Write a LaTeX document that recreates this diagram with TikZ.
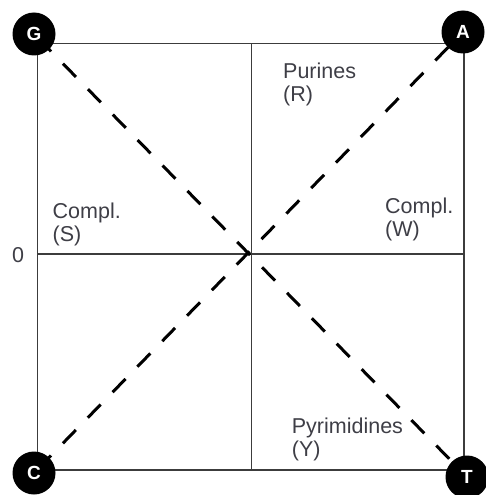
\documentclass[tikz,border=0pt]{standalone}
\usepackage{fontspec}
\setmainfont{Liberation Sans}
\definecolor{txt}{RGB}{62,62,70}
\definecolor{frame}{RGB}{60,60,60}
\begin{document}
\begin{tikzpicture}[x=1pt,y=-1pt,
  frameline/.style={draw=frame,line width=1.2pt},
  dashline/.style={draw=black,line width=3pt,dash pattern=on 18.5pt off 17.1pt,dash phase=29.7pt},
  corner/.style={circle,fill=black,minimum size=43pt,inner sep=0pt,text=white,font=\bfseries\fontsize{19}{19}\selectfont},
  lbl/.style={anchor=base west,inner sep=0pt,align=left,text=txt,font=\fontsize{21.5}{22.8}\selectfont}]
\useasboundingbox (0,0) rectangle (485,495);
\coordinate (tl) at (37.7,43.5);
\coordinate (tr) at (464,43.5);
\coordinate (bl) at (37.7,470);
\coordinate (br) at (464,470);
\coordinate (tm) at (251.5,43.5);
\coordinate (bm) at (251.5,470);
\coordinate (lm) at (37.7,254);
\coordinate (rm) at (464,254);
\draw[frameline] (tl) rectangle (br);
\draw[frameline] (tm) -- (bm);
\draw[frameline] (lm) -- (rm);
\coordinate (cG) at (34,34);
\coordinate (cA) at (463,32);
\coordinate (cC) at (34,473);
\coordinate (cT) at (467,477);
\draw[dashline] (cG) -- (cT);
\draw[dashline] (cC) -- (cA);
\node[corner] (G) at (cG) {G};
\node[corner] (A) at (cA) {A};
\node[corner] (C) at (cC) {C};
\node[corner] (T) at (cT) {T};
\node[lbl] (pur) at (283,101.7) {Purines\\(R)};
\node[lbl] (cs) at (52.5,241.7) {Compl.\\(S)};
\node[lbl] (cw) at (385,236.7) {Compl.\\(W)};
\node[lbl] (zero) at (12,262) {0};
\node[lbl] (pyr) at (291.7,456) {Pyrimidines\\(Y)};
\end{tikzpicture}
\end{document}
